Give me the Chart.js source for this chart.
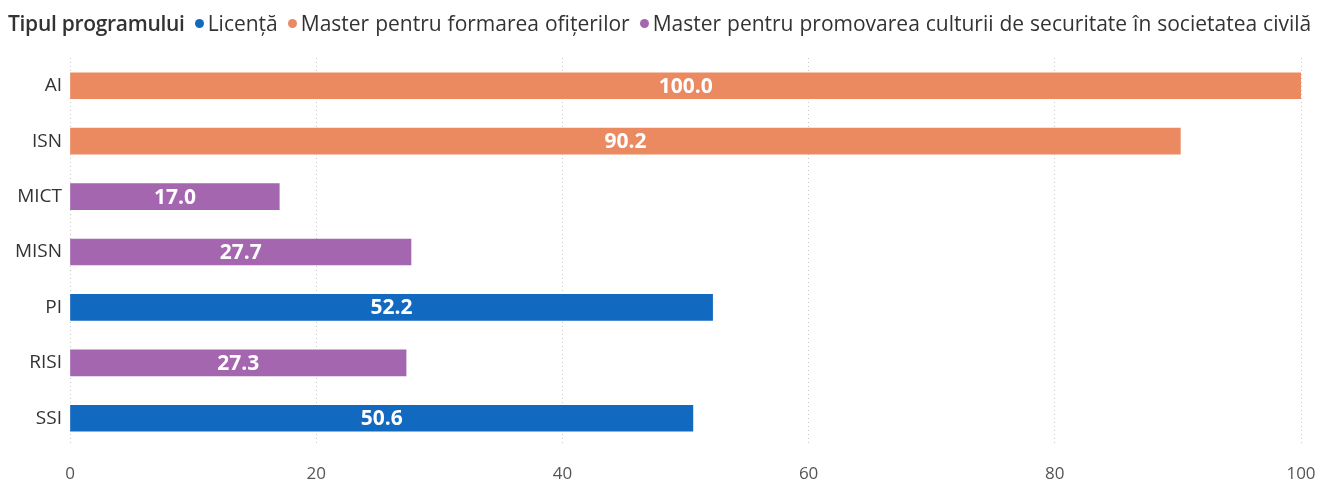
<!DOCTYPE html>
<html>
<head>
<meta charset="utf-8">
<script src="https://cdn.jsdelivr.net/npm/chart.js@4"></script>
<style>
  html, body { margin: 0; padding: 0; background: #fff; }
  #wrap { position: relative; width: 1341px; height: 487px; }
  #legend {
    position: absolute; left: 8px; top: 9px; line-height: 28px;
    font-family: 'Open Sans', sans-serif;
    font-size: 21px; color: #333; white-space: nowrap; display: flex; align-items: center;
  }
  #legend b { font-weight: 600; margin-right: 10px; color: #333; letter-spacing: -0.3px; }
  #legend .item { display: flex; align-items: center; margin-right: 10px; word-spacing: 0.5px; }
  #legend .dot { width: 9px; height: 9px; border-radius: 50%; margin-right: 4px; }
</style>
</head>
<body>
<div id="wrap">
  <div id="legend"></div>
  <canvas id="myChart" width="1341" height="487"></canvas>
</div>
<script>
const FONT = "'Open Sans', sans-serif";

const labels = ["AI", "ISN", "MICT", "MISN", "PI", "RISI", "SSI"];
const programs = ["Licență", "Master pentru formarea ofițerilor", "Master pentru promovarea culturii de securitate în societatea civilă"];
const colors = ["#1169C0", "#EB8A60", "#A566B0"];
// program index of each category
const programOf = [1, 1, 2, 2, 0, 2, 0];
const values = [100.0, 90.2, 17.0, 27.7, 52.2, 27.3, 50.6];
const xTicks = [0, 20, 40, 60, 80, 100];

// one dataset per program, nulls where the bar belongs to another program
const datasets = programs.map((p, k) => ({
  label: p,
  backgroundColor: colors[k],
  borderWidth: 0,
  barThickness: 26,
  data: values.map((v, i) => (programOf[i] === k ? v : null)),
}));

// legend
const legend = document.getElementById("legend");
let html = "<b>Tipul programului</b>";
programs.forEach((p, k) => {
  html += '<span class="item"><span class="dot" style="background:' + colors[k] + '"></span>' + p + "</span>";
});
legend.innerHTML = html;

const valueLabels = {
  id: "valueLabels",
  afterDatasetsDraw(chart) {
    const ctx = chart.ctx;
    ctx.save();
    ctx.font = "bold 21px " + FONT;
    ctx.fillStyle = "#fff";
    ctx.textAlign = "center";
    ctx.textBaseline = "middle";
    chart.data.datasets.forEach((ds, d) => {
      chart.getDatasetMeta(d).data.forEach((bar, i) => {
        if (ds.data[i] === null) return;
        const x = (bar.x + bar.base) / 2;
        ctx.fillText(ds.data[i].toFixed(1), x, bar.y + 1);
      });
    });
    ctx.restore();
  },
};

const config = {
  type: "bar",
  data: { labels: labels, datasets: datasets },
  options: {
    indexAxis: "y",
    responsive: false,
    animation: false,
    layout: { padding: { top: 58, right: 40, bottom: 0, left: 0 } },
    datasets: { bar: { grouped: false } },
    plugins: {
      legend: { display: false },
      tooltip: { enabled: false },
    },
    scales: {
      x: {
        min: 0,
        max: 100,
        afterBuildTicks: (axis) => { axis.ticks = xTicks.map((v) => ({ value: v })); },
        afterFit: (axis) => { axis.height = 41; },
        grid: { color: "#c8c8c8", borderDash: [1, 3], drawTicks: false, lineWidth: 1 },
        border: { display: false, dash: [1, 3] },
        ticks: { color: "#555", padding: 18, font: { family: FONT, size: 17 } },
      },
      y: {
        afterFit: (axis) => { axis.width = 70; },
        grid: { display: false, drawTicks: false },
        border: { display: false },
        ticks: { color: "#333", padding: 8, font: { family: FONT, size: 19 } },
      },
    },
  },
  plugins: [valueLabels],
};

var myChart = new Chart(document.getElementById("myChart"), config);
</script>
</body>
</html>
